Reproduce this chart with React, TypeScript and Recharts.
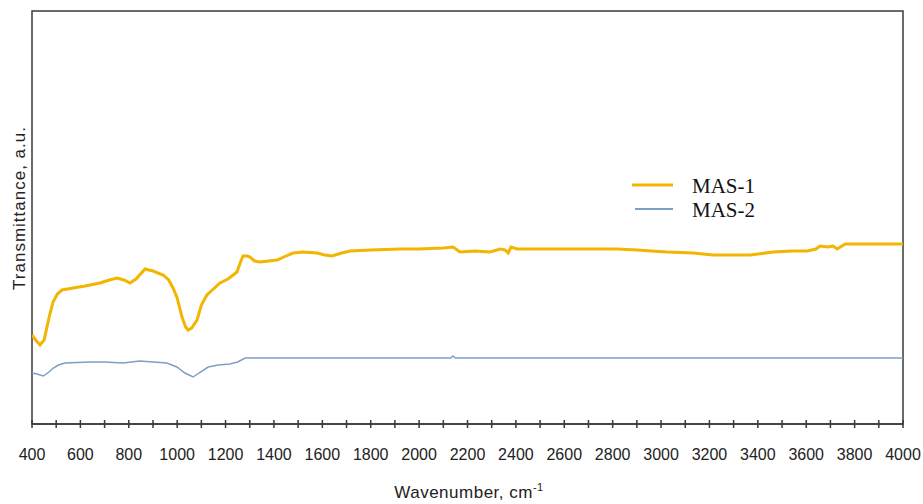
import React from "react";
import { LineChart, Line, XAxis, YAxis, ReferenceArea, Legend } from "recharts";

// Wavenumber (cm-1) and transmittance (a.u.)
const mas1Wn = [400, 415, 433, 450, 470, 487, 505, 524, 570, 620, 681, 720, 751, 780, 805, 830, 867, 900, 942, 965, 983, 1000, 1020, 1035, 1045, 1060, 1082, 1100, 1123, 1150, 1177, 1210, 1247, 1262, 1272, 1290, 1301, 1320, 1342, 1380, 1413, 1450, 1479, 1520, 1578, 1610, 1640, 1680, 1715, 1800, 1921, 2000, 2100, 2140, 2169, 2230, 2293, 2335, 2355, 2368, 2380, 2405, 2600, 2818, 2901, 2960, 3025, 3133, 3215, 3300, 3368, 3463, 3540, 3604, 3640, 3657, 3690, 3711, 3728, 3761, 3850, 4000];
const mas1T = [89, 84, 79, 84, 106, 122, 130, 134, 136, 138, 141, 144, 146, 144, 141, 145, 155, 153, 149, 144, 136, 126, 107, 97, 94, 96, 104, 119, 129, 135, 141, 145, 152, 162, 168, 168, 167, 163, 162, 163, 164, 168, 171, 172, 171, 169, 168, 171, 173, 174, 175, 175, 176, 177, 172, 173, 172, 175, 174, 171, 177, 175, 175, 175, 174, 173, 172, 171, 169, 169, 169, 172, 173, 173, 175, 178, 177, 178, 175, 180, 180, 180];

const mas2Wn = [400, 420, 447, 470, 488, 510, 536, 640, 700, 776, 846, 900, 957, 999, 1032, 1066, 1090, 1128, 1170, 1218, 1250, 1281, 2130, 2140, 2150, 4000];
const mas2T = [51, 50, 48, 52, 56, 59, 61, 62, 62, 61, 63, 62, 61, 57, 51, 47, 51, 57, 59, 60, 62, 66, 66, 68, 66, 66];

const xTicks = [400, 500, 600, 700, 800, 900, 1000, 1100, 1200, 1300, 1400, 1500, 1600, 1700, 1800, 1900, 2000, 2100, 2200, 2300, 2400, 2500, 2600, 2700, 2800, 2900, 3000, 3100, 3200, 3300, 3400, 3500, 3600, 3700, 3800, 3900, 4000];
const xLabels = [400, 600, 800, 1000, 1200, 1400, 1600, 1800, 2000, 2200, 2400, 2600, 2800, 3000, 3200, 3400, 3600, 3800, 4000];

const seriesNames = ["MAS-1", "MAS-2"];
const seriesColors = ["#F2B500", "#7F9FC2"];

const mas1 = mas1Wn.map((wn, i) => ({ wn, t: mas1T[i] }));
const mas2 = mas2Wn.map((wn, i) => ({ wn, t: mas2T[i] }));

const AXIS = "#3a3a3a";

const Tick = (props: any) => {
  const { x, y, payload } = props;
  const v = payload.value;
  const major = xLabels.includes(v);
  return (
    <g>
      <line x1={x} x2={x} y1={y - 4} y2={y + 4} stroke={AXIS} strokeWidth={1.5} />
      {major && (
        <text x={x} y={y + 36} textAnchor="middle" fontSize={16} fill="#222" fontFamily="Liberation Sans, Arial, sans-serif">
          {v}
        </text>
      )}
    </g>
  );
};

const LegendContent = () => (
  <svg width={180} height={54} style={{ overflow: "visible" }}>
    {seriesNames.map((n, i) => (
      <g key={n}>
        <line x1={i === 0 ? 0 : 3} x2={41} y1={8 + i * 24} y2={8 + i * 24} stroke={seriesColors[i]} strokeWidth={i === 0 ? 3 : 2} />
        <text x={60} y={16 + i * 24} fontSize={21} fontFamily="Liberation Serif, Times New Roman, serif" fill="#111">
          {n}
        </text>
      </g>
    ))}
  </svg>
);

export default function App() {
  return (
    <div style={{ position: "absolute", left: 0, top: 0, width: 923, height: 504, background: "#fff" }}>
      <LineChart width={923} height={504} margin={{ top: 11, right: 20, bottom: 50, left: 32 }}>
        <XAxis
          type="number"
          dataKey="wn"
          domain={[400, 4000]}
          ticks={xTicks}
          interval={0}
          height={30}
          tickSize={0}
          tickMargin={0}
          tickLine={false}
          axisLine={{ stroke: AXIS, strokeWidth: 1.5 }}
          tick={<Tick />}
          allowDataOverflow
        />
        <YAxis type="number" domain={[0, 413]} hide />
        <ReferenceArea x1={400} x2={4000} y1={0} y2={413} fill="none" stroke={AXIS} strokeWidth={1.5} ifOverflow="visible" />
        <Line data={mas2} dataKey="t" name="MAS-2" type="linear" stroke={seriesColors[1]} strokeWidth={1.5} dot={false} isAnimationActive={false} />
        <Line data={mas1} dataKey="t" name="MAS-1" type="linear" stroke={seriesColors[0]} strokeWidth={3} dot={false} isAnimationActive={false} />
        <Legend
          layout="vertical"
          align="center"
          verticalAlign="middle"
          content={<LegendContent />}
          wrapperStyle={{ position: "absolute", left: 632, top: 177, width: 180, height: 54 }}
        />
      </LineChart>
      <div
        style={{
          position: "absolute",
          left: 469,
          top: 492,
          transform: "translate(-50%, -50%)",
          whiteSpace: "nowrap",
          fontFamily: "Liberation Sans, Arial, sans-serif",
          fontSize: 17,
          letterSpacing: 0.5,
          color: "#222",
        }}
      >
        Wavenumber, cm<sup style={{ fontSize: 11 }}>-1</sup>
      </div>
      <div
        style={{
          position: "absolute",
          left: 20,
          top: 208,
          transform: "translate(-50%, -50%) rotate(-90deg)",
          whiteSpace: "nowrap",
          fontFamily: "Liberation Sans, Arial, sans-serif",
          fontSize: 17,
          letterSpacing: 1,
          color: "#222",
        }}
      >
        Transmittance, a.u.
      </div>
    </div>
  );
}
